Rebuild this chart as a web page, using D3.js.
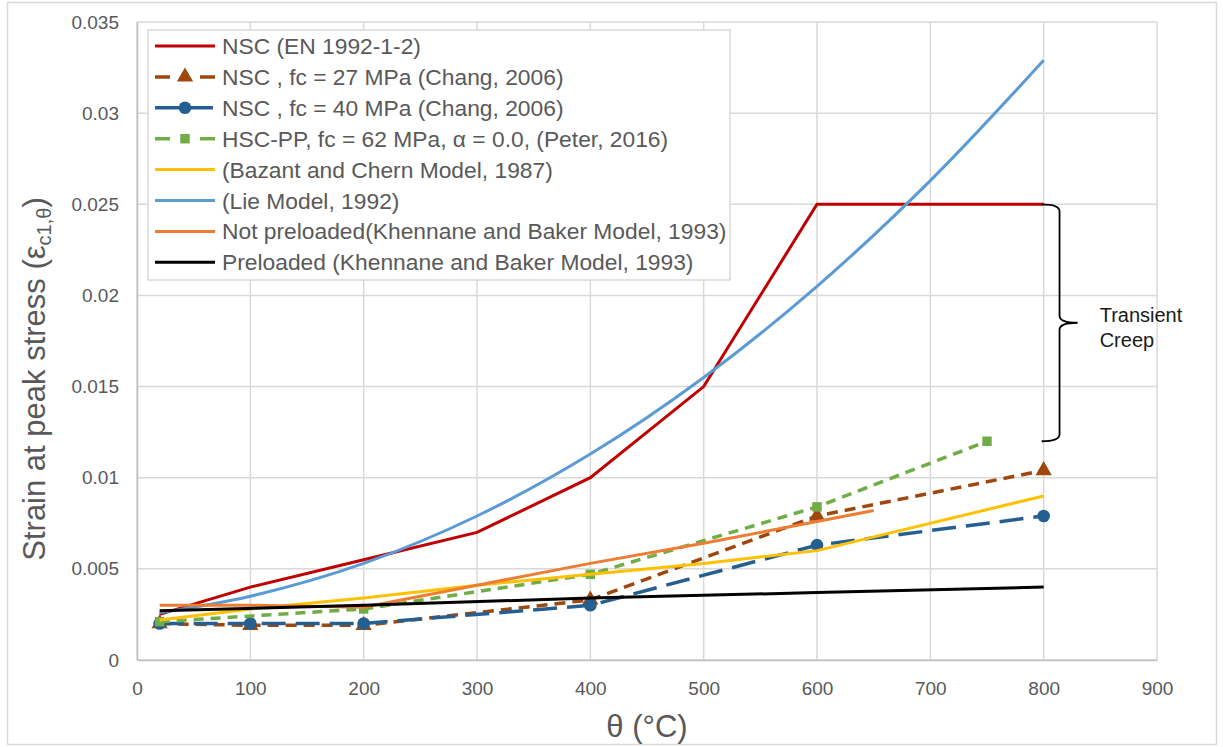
<!DOCTYPE html>
<html>
<head>
<meta charset="utf-8">
<script src="https://cdn.jsdelivr.net/npm/d3@7"></script>
<style>
    body { margin: 0; background: #fff; }
    svg { display: block; font-family: "Liberation Sans", Arial, sans-serif; }
</style>
</head>
<body>
<svg id="chart"></svg>
<script>
// values: [temperature °C, strain]
const nscEN = [[20, 0.0025], [100, 0.004], [200, 0.0055], [300, 0.007], [400, 0.01], [500, 0.015], [600, 0.025], [800, 0.025]]
const nsc27 = [[20, 0.002], [100, 0.0019], [200, 0.0019], [400, 0.0033], [600, 0.0079], [800, 0.0104]]
const nsc40 = [[20, 0.002], [100, 0.002], [200, 0.002], [400, 0.003], [600, 0.0063], [800, 0.0079]]
const hscPP = [[20, 0.0021], [200, 0.0028], [400, 0.0047], [600, 0.0084], [750, 0.012]]
const bazant = [[20, 0.0022], [100, 0.0028], [200, 0.0034], [300, 0.0041], [400, 0.0047], [500, 0.0053], [600, 0.006], [800, 0.009]]
const lie = [[20, 0.0026], [100, 0.0035], [200, 0.0053], [300, 0.0079], [400, 0.0113], [500, 0.0155], [600, 0.0205], [700, 0.0263], [800, 0.0329]]
const notPreloaded = [[20, 0.003], [100, 0.003], [200, 0.0029], [300, 0.0041], [400, 0.0053], [500, 0.0064], [600, 0.0076], [650, 0.0082]]
const preloaded = [[20, 0.0027], [200, 0.003], [400, 0.0034], [600, 0.0037], [800, 0.004]]

const legendLabels = [
    'NSC (EN 1992-1-2)',
    'NSC , fc = 27 MPa (Chang, 2006)',
    'NSC , fc = 40 MPa (Chang, 2006)',
    'HSC-PP, fc = 62 MPa, α = 0.0, (Peter, 2016)',
    '(Bazant and Chern Model, 1987)',
    '(Lie Model, 1992)',
    'Not preloaded(Khennane and Baker Model, 1993)',
    'Preloaded (Khennane and Baker Model, 1993)',
]

const xTicks = [0, 100, 200, 300, 400, 500, 600, 700, 800, 900]
const yTicks = [0, 0.005, 0.01, 0.015, 0.02, 0.025, 0.03, 0.035]
const yTickLabels = ['0', '0.005', '0.01', '0.015', '0.02', '0.025', '0.03', '0.035']

const creepTop = 0.025
const creepBottom = 0.012

const width = 1223
const height = 747
const margin = { top: 22, right: 66, bottom: 87, left: 137 }

const series = [
    { data: nscEN, color: '#C00000', dash: null, marker: null },
    { data: nsc27, color: '#9E480E', dash: '11,7', legendDash: '15,30,15', marker: d3.symbolTriangle, size: 115 },
    { data: nsc40, color: '#255E91', dash: '24,10', legendDash: '24,10', marker: d3.symbolCircle, size: 125 },
    { data: hscPP, color: '#70AD47', dash: '10,7', legendDash: '15,30,15', marker: d3.symbolSquare, size: 90 },
    { data: bazant, color: '#FFC000', dash: null, marker: null },
    { data: lie, color: '#5B9BD5', dash: null, marker: null, smooth: true },
    { data: notPreloaded, color: '#ED7D31', dash: null, marker: null },
    { data: preloaded, color: '#000000', dash: null, marker: null },
]

const svg = d3.select('#chart').attr('width', width).attr('height', height)

// outer chart border
svg.append('rect')
    .attr('x', 7.5).attr('y', 2.5)
    .attr('width', width - 14).attr('height', height - 5)
    .attr('fill', '#fff').attr('stroke', '#d9d9d9').attr('stroke-width', 1.5)

const xScale = d3.scaleLinear().domain([0, 900]).range([margin.left, width - margin.right])
const yScale = d3.scaleLinear().domain([0, 0.035]).range([height - margin.bottom, margin.top])

// grid
const grid = svg.append('g')
grid.selectAll('.gx').data(xTicks).join('line')
    .attr('x1', d => xScale(d)).attr('x2', d => xScale(d))
    .attr('y1', yScale(0)).attr('y2', yScale(0.035))
    .attr('stroke', '#d9d9d9').attr('stroke-width', 1.5)
grid.selectAll('.gy').data(yTicks).join('line')
    .attr('x1', xScale(0)).attr('x2', xScale(900))
    .attr('y1', d => yScale(d)).attr('y2', d => yScale(d))
    .attr('stroke', '#d9d9d9').attr('stroke-width', 1.5)

// axes
const xAxis = d3.axisBottom(xScale).tickValues(xTicks).tickSize(0).tickPadding(22)
const yAxis = d3.axisLeft(yScale).tickValues(yTicks).tickSize(0).tickPadding(18)
    .tickFormat((d, i) => yTickLabels[i])

const xAxisGroup = svg.append('g')
    .attr('transform', `translate(0,${yScale(0)})`)
    .call(xAxis)
const yAxisGroup = svg.append('g')
    .attr('transform', `translate(${xScale(0)},0)`)
    .call(yAxis)

for (const g of [xAxisGroup, yAxisGroup]) {
    g.select('.domain').attr('stroke', '#bfbfbf').attr('stroke-width', 1.5)
    g.selectAll('text').attr('fill', '#595959').attr('font-size', 19)
        .attr('font-family', '"Liberation Sans", Arial, sans-serif')
}

// series
const lineLinear = d3.line().x(d => xScale(d[0])).y(d => yScale(d[1]))
const lineSmooth = d3.line().x(d => xScale(d[0])).y(d => yScale(d[1])).curve(d3.curveCatmullRom)

series.forEach(s => {
    svg.append('path')
        .datum(s.data)
        .attr('fill', 'none')
        .attr('stroke', s.color)
        .attr('stroke-width', s.dash ? 3.5 : 3)
        .attr('stroke-dasharray', s.dash)
        .attr('d', s.smooth ? lineSmooth : lineLinear)
    if (s.marker) {
        svg.append('g').selectAll('path').data(s.data).join('path')
            .attr('transform', d => `translate(${xScale(d[0])},${yScale(d[1])})`)
            .attr('d', d3.symbol().type(s.marker).size(s.size))
            .attr('fill', s.color)
    }
})

// transient creep brace
const bx0 = xScale(800) - 2
const bx1 = xScale(814)
const bTip = xScale(830)
const yT = yScale(creepTop)
const yB = yScale(creepBottom)
const yM = (yT + yB) / 2
const r = 7
const brace = d3.path()
brace.moveTo(bx0, yT)
brace.quadraticCurveTo(bx1, yT, bx1, yT + r)
brace.lineTo(bx1, yM - r)
brace.quadraticCurveTo(bx1, yM, bTip, yM)
brace.quadraticCurveTo(bx1, yM, bx1, yM + r)
brace.lineTo(bx1, yB - r)
brace.quadraticCurveTo(bx1, yB, bx0, yB)
svg.append('path').attr('d', brace.toString())
    .attr('fill', 'none').attr('stroke', '#000').attr('stroke-width', 1.8)

svg.append('text').attr('x', bTip + 22).attr('y', yM - 1)
    .attr('font-size', 20).attr('fill', '#1a1a1a').text('Transient')
svg.append('text').attr('x', bTip + 22).attr('y', yM + 24)
    .attr('font-size', 20).attr('fill', '#1a1a1a').text('Creep')

// legend
const legend = svg.append('g')
legend.append('rect')
    .attr('x', 148).attr('y', 30).attr('width', 582).attr('height', 250)
    .attr('fill', '#fff').attr('stroke', '#d9d9d9').attr('stroke-width', 1.5)

const rowY = i => 46 + i * 30.9
series.forEach((s, i) => {
    legend.append('line')
        .attr('x1', 155).attr('x2', 215)
        .attr('y1', rowY(i)).attr('y2', rowY(i))
        .attr('stroke', s.color)
        .attr('stroke-width', s.dash ? 3.5 : 3)
        .attr('stroke-dasharray', s.legendDash || null)
    if (s.marker) {
        legend.append('path')
            .attr('transform', `translate(185,${rowY(i)})`)
            .attr('d', d3.symbol().type(s.marker).size(s.size))
            .attr('fill', s.color)
    }
    legend.append('text')
        .attr('x', 222).attr('y', rowY(i))
        .attr('dominant-baseline', 'central')
        .attr('font-size', 22.8).attr('fill', '#595959')
        .text(legendLabels[i])
})

// axis titles
const yTitle = svg.append('text')
    .attr('transform', `translate(45,379) rotate(-90)`)
    .attr('text-anchor', 'middle')
    .attr('font-size', 31).attr('fill', '#595959')
yTitle.append('tspan').text('Strain at peak stress (ε')
yTitle.append('tspan').attr('font-size', 20).attr('dy', 6).text('c1,θ')
yTitle.append('tspan').attr('dy', -6).text(')')

svg.append('text')
    .attr('x', (xScale(0) + xScale(900)) / 2)
    .attr('y', 737)
    .attr('text-anchor', 'middle')
    .attr('font-size', 31).attr('fill', '#595959')
    .text('θ (°C)')
</script>
</body>
</html>
